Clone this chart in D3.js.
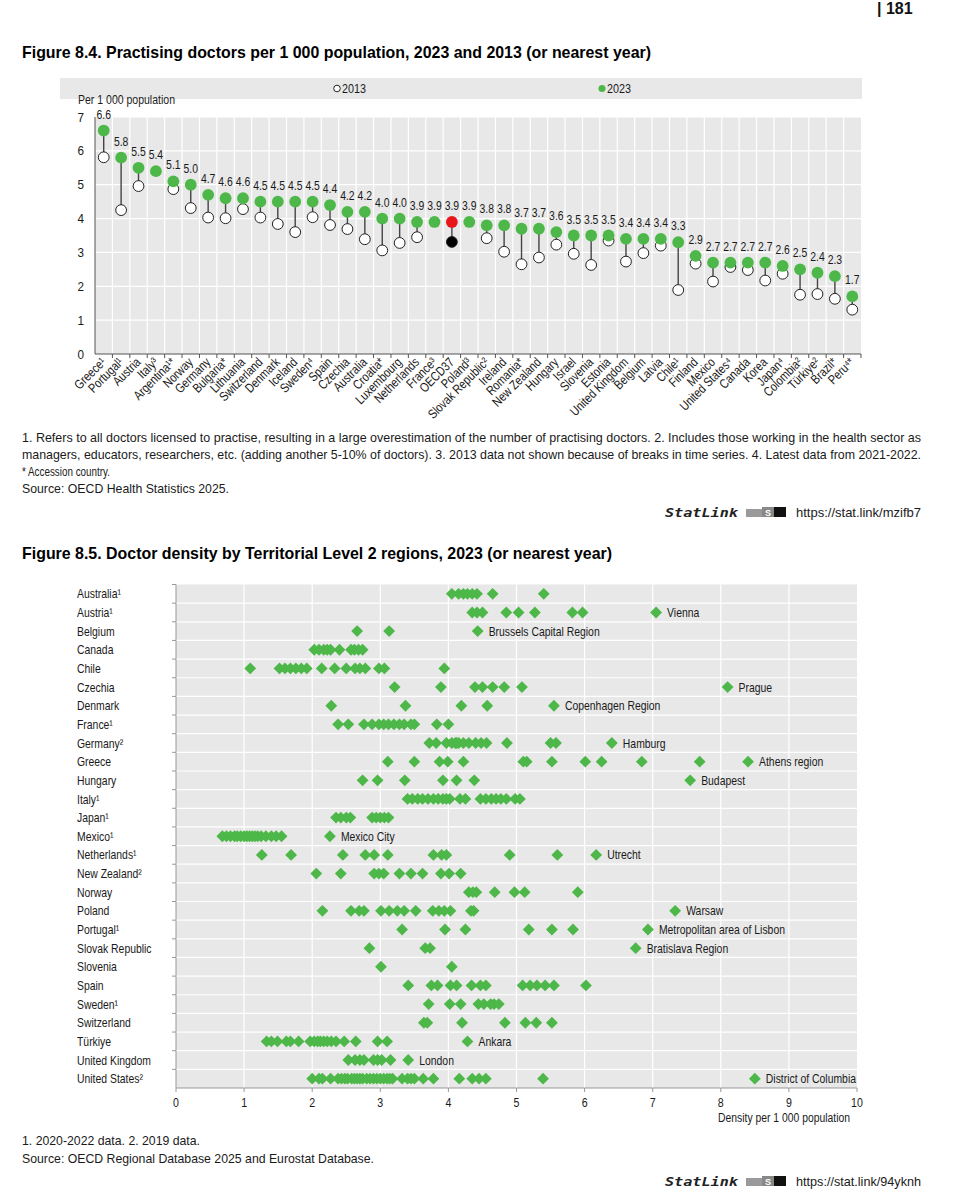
<!DOCTYPE html>
<html><head><meta charset="utf-8">
<script src="https://cdn.jsdelivr.net/npm/d3@7"></script>
<style>
body{margin:0;background:#fff;}
svg{display:block;font-family:"Liberation Sans",Arial,sans-serif;}
</style></head>
<body><svg id="c" width="965" height="1200"></svg>
<script>
// ---------- Figure 8.4 data ----------
const countries = ["Greece¹","Portugal¹","Austria","Italy³","Argentina¹*","Norway","Germany","Bulgaria*","Lithuania","Switzerland","Denmark","Iceland","Sweden⁴","Spain","Czechia","Australia","Croatia*","Luxembourg","Netherlands","France³","OECD37","Poland³","Slovak Republic²","Ireland","Romania*","New Zealand","Hungary","Israel","Slovenia","Estonia","United Kingdom","Belgium","Latvia","Chile¹","Finland","Mexico","United States⁴","Canada","Korea","Japan⁴","Colombia²","Türkiye²","Brazil*","Peru⁴*"];
const v2023 = [6.6,5.8,5.5,5.4,5.1,5.0,4.7,4.6,4.6,4.5,4.5,4.5,4.5,4.4,4.2,4.2,4.0,4.0,3.9,3.9,3.9,3.9,3.8,3.8,3.7,3.7,3.6,3.5,3.5,3.5,3.4,3.4,3.4,3.3,2.9,2.7,2.7,2.7,2.7,2.6,2.5,2.4,2.3,1.7];
const v2013 = [5.81,4.25,4.96,null,4.87,4.31,4.03,4.01,4.28,4.03,3.84,3.6,4.04,3.81,3.69,3.39,3.06,3.28,3.45,null,3.31,null,3.42,3.02,2.65,2.85,3.23,2.96,2.63,3.35,2.73,2.98,3.2,1.89,2.67,2.14,2.57,2.48,2.17,2.37,1.75,1.77,1.63,1.31];
const yTicks84 = [0,1,2,3,4,5,6,7];
const seriesNames = ["2013","2023"];

// ---------- Figure 8.5 data ----------
const regionCountries = ["Australia¹","Austria¹","Belgium","Canada","Chile","Czechia","Denmark","France¹","Germany²","Greece","Hungary","Italy¹","Japan¹","Mexico¹","Netherlands¹","New Zealand²","Norway","Poland","Portugal¹","Slovak Republic","Slovenia","Spain","Sweden¹","Switzerland","Türkiye","United Kingdom","United States²"];
const regionValues = [
 [4.05,4.15,4.22,4.28,4.35,4.42,4.65,5.4],
 [4.35,4.42,4.5,4.85,5.03,5.27,5.82,5.97,7.05],
 [2.66,3.13,4.43],
 [2.03,2.1,2.17,2.22,2.27,2.4,2.57,2.62,2.68,2.74],
 [1.09,1.52,1.6,1.68,1.76,1.84,1.92,2.14,2.33,2.5,2.63,2.7,2.78,2.98,3.06,3.94],
 [3.21,3.89,4.39,4.5,4.65,4.82,5.08,8.1],
 [2.28,3.37,4.19,4.57,5.55],
 [2.38,2.53,2.76,2.88,2.98,3.05,3.12,3.2,3.28,3.35,3.45,3.5,3.83,4.0],
 [3.72,3.82,3.97,4.05,4.1,4.12,4.15,4.22,4.3,4.4,4.48,4.56,4.86,5.5,5.58,6.4],
 [3.11,3.5,3.87,3.99,4.22,5.1,5.15,5.52,6.01,6.25,6.84,7.69,8.4],
 [2.74,2.96,3.36,3.92,4.12,4.38,7.55],
 [3.4,3.47,3.55,3.62,3.7,3.78,3.85,3.92,3.97,4.02,4.17,4.25,4.47,4.55,4.63,4.7,4.77,4.85,4.98,5.05],
 [2.35,2.42,2.5,2.56,2.88,2.94,3.0,3.06,3.12],
 [0.68,0.74,0.8,0.86,0.9,0.95,1.0,1.04,1.08,1.12,1.16,1.2,1.25,1.32,1.4,1.47,1.55,2.26],
 [1.26,1.69,2.45,2.78,2.91,3.11,3.78,3.9,3.97,4.9,5.6,6.17],
 [2.06,2.42,2.91,2.98,3.05,3.28,3.45,3.62,3.89,4.01,4.18],
 [4.3,4.36,4.41,4.68,4.97,5.12,5.9],
 [2.15,2.57,2.69,2.76,3.01,3.13,3.25,3.35,3.52,3.77,3.86,3.94,4.03,4.33,4.37,7.33],
 [3.32,3.95,4.25,5.18,5.52,5.83,6.93],
 [2.84,3.66,3.73,6.75],
 [3.01,4.05],
 [3.41,3.75,3.84,4.03,4.12,4.34,4.47,4.55,5.09,5.2,5.3,5.42,5.55,6.02],
 [3.71,4.02,4.18,4.44,4.52,4.62,4.67,4.74],
 [3.64,3.69,4.2,4.83,5.13,5.29,5.52],
 [1.33,1.4,1.49,1.62,1.68,1.8,1.97,2.03,2.08,2.12,2.17,2.22,2.28,2.35,2.47,2.64,2.96,3.1,4.28],
 [2.53,2.63,2.7,2.76,2.9,2.96,3.02,3.15,3.41],
 [2.0,2.1,2.15,2.27,2.38,2.43,2.48,2.52,2.58,2.62,2.66,2.7,2.74,2.8,2.85,2.9,2.95,3.0,3.05,3.1,3.14,3.18,3.32,3.4,3.45,3.5,3.63,3.78,4.16,4.35,4.45,4.55,5.39,8.5]
];
const capitalLabels = ["","Vienna","Brussels Capital Region","","","Prague","Copenhagen Region","","Hamburg","Athens region","Budapest","","","Mexico City","Utrecht","","","Warsaw","Metropolitan area of Lisbon","Bratislava Region","","","","","Ankara","London","District of Columbia"];
const xTicks85 = [0,1,2,3,4,5,6,7,8,9,10];

// ---------- styling ----------
const GREEN = "#4db849", BG = "#e8e8e8", TXT = "#1a1a1a", AX = "#555";
const svg = d3.select("#c");

function squeeze(sel, f) {
  sel.each(function () {
    const w = this.getComputedTextLength();
    d3.select(this).attr("textLength", w * f).attr("lengthAdjust", "spacingAndGlyphs");
  });
  return sel;
}
function txt(x, y, s, opts = {}) {
  const t = svg.append("text").attr("x", x).attr("y", y).text(s)
    .attr("font-size", opts.size || 12).attr("fill", opts.fill || TXT)
    .attr("text-anchor", opts.anchor || "start");
  if (opts.bold) t.attr("font-weight", "bold");
  if (opts.italic) t.attr("font-style", "italic");
  if (opts.family) t.attr("font-family", opts.family);
  if (opts.len) t.attr("textLength", opts.len).attr("lengthAdjust", "spacingAndGlyphs");
  else if (opts.sq) squeeze(t, opts.sq);
  return t;
}

// page number
txt(877, 14, "| 181", {size: 16, bold: true, fill: "#111"});

// ================= Figure 8.4 =================
txt(22, 58, "Figure 8.4. Practising doctors per 1 000 population, 2023 and 2013 (or nearest year)", {size: 17, bold: true, len: 629, fill: "#000"});

svg.append("rect").attr("x", 60).attr("y", 78).attr("width", 802).attr("height", 21).attr("fill", BG);
svg.append("circle").attr("cx", 337).attr("cy", 88.5).attr("r", 3.3).attr("fill", "#fff").attr("stroke", "#222").attr("stroke-width", 1);
txt(342, 93, seriesNames[0], {size: 13, len: 24});
svg.append("circle").attr("cx", 602).attr("cy", 88.5).attr("r", 3.5).attr("fill", GREEN);
txt(607, 93, seriesNames[1], {size: 13, len: 24});

const x1 = d3.scaleBand().domain(countries).range([95, 861]).padding(0);
const y1 = d3.scaleLinear().domain([0, 7]).range([354, 117]);

svg.append("rect").attr("x", 95).attr("y", y1(7)).attr("width", 766).attr("height", y1(0) - y1(7)).attr("fill", BG);
svg.append("g").selectAll("line").data(yTicks84.slice(1)).join("line")
  .attr("x1", 95).attr("x2", 861).attr("y1", d => y1(d)).attr("y2", d => y1(d))
  .attr("stroke", "#fff").attr("stroke-width", 1.2);
const bounds = countries.slice(1).map(c => x1(c));
svg.append("g").selectAll("line").data(bounds).join("line")
  .attr("x1", d => d).attr("x2", d => d).attr("y1", y1(7)).attr("y2", y1(0))
  .attr("stroke", "#fff").attr("stroke-width", 1.2);
svg.append("line").attr("x1", 95).attr("x2", 95).attr("y1", y1(7)).attr("y2", y1(0)).attr("stroke", AX).attr("stroke-width", 1);
svg.append("line").attr("x1", 95).attr("x2", 861).attr("y1", y1(0)).attr("y2", y1(0)).attr("stroke", AX).attr("stroke-width", 1);
svg.append("g").selectAll("line").data(bounds.concat([861])).join("line")
  .attr("x1", d => d).attr("x2", d => d).attr("y1", y1(0)).attr("y2", y1(0) + 4)
  .attr("stroke", AX).attr("stroke-width", 1);
squeeze(svg.append("g").selectAll("text").data(yTicks84).join("text")
  .attr("x", 84).attr("y", d => y1(d)).attr("dy", "0.35em").attr("text-anchor", "end")
  .attr("font-size", 13).attr("fill", TXT).text(d => d), 0.9);
txt(78, 104, "Per 1 000 population", {size: 12.5, len: 97});

const pts = countries.map((c, i) => ({c, i, a: v2013[i], b: v2023[i]}));
svg.append("g").selectAll("line").data(pts.filter(d => d.a != null)).join("line")
  .attr("x1", d => x1(d.c) + x1.bandwidth() / 2).attr("x2", d => x1(d.c) + x1.bandwidth() / 2)
  .attr("y1", d => y1(d.a)).attr("y2", d => y1(d.b))
  .attr("stroke", "#444").attr("stroke-width", 1.4);
svg.append("g").selectAll("circle").data(pts.filter(d => d.a != null)).join("circle")
  .attr("cx", d => x1(d.c) + x1.bandwidth() / 2).attr("cy", d => y1(d.a)).attr("r", 5.4)
  .attr("fill", d => d.c === "OECD37" ? "#000" : "#fff").attr("stroke", "#222").attr("stroke-width", 1);
svg.append("g").selectAll("circle").data(pts).join("circle")
  .attr("cx", d => x1(d.c) + x1.bandwidth() / 2).attr("cy", d => y1(d.b)).attr("r", 5.9)
  .attr("fill", d => d.c === "OECD37" ? "#e8161b" : GREEN);
squeeze(svg.append("g").selectAll("text").data(pts).join("text")
  .attr("x", d => x1(d.c) + x1.bandwidth() / 2).attr("y", d => y1(d.b) - 12)
  .attr("text-anchor", "middle").attr("font-size", 13).attr("fill", TXT)
  .text(d => d.b.toFixed(1)), 0.8);
squeeze(svg.append("g").selectAll("text").data(countries).join("text")
  .attr("transform", d => `translate(${x1(d) + x1.bandwidth() / 2 + 3},${y1(0) + 9}) rotate(-45)`)
  .attr("text-anchor", "end").attr("font-size", 13).attr("fill", TXT).text(d => d), 0.82);

txt(22, 442, "1. Refers to all doctors licensed to practise, resulting in a large overestimation of the number of practising doctors. 2. Includes those working in the health sector as", {size: 13, len: 899});
txt(22, 459, "managers, educators, researchers, etc. (adding another 5-10% of doctors). 3. 2013 data not shown because of breaks in time series. 4. Latest data from 2021-2022.", {size: 13, len: 899});
txt(22, 476, "* Accession country.", {size: 13, len: 88});
txt(22, 493, "Source: OECD Health Statistics 2025.", {size: 13, len: 207});

function statlink(y, url) {
  txt(665, y, "StatLink", {size: 13, bold: true, italic: true, family: "DejaVu Sans Mono, monospace", len: 73, fill: "#222"});
  const g = svg.append("g").attr("transform", `translate(746,${y - 10})`);
  g.append("rect").attr("x", 0).attr("y", 2).attr("width", 16).attr("height", 8).attr("fill", "#9a9a9a");
  g.append("rect").attr("x", 16).attr("y", 0).attr("width", 12).attr("height", 10).attr("fill", "#888");
  g.append("rect").attr("x", 28).attr("y", 0).attr("width", 12).attr("height", 10).attr("fill", "#111");
  g.append("text").attr("x", 19).attr("y", 9).attr("font-size", 9).attr("font-weight", "bold").attr("fill", "#fff").text("S");
  txt(796, y, url, {size: 13, len: 125});
}
statlink(517, "https://stat.link/mzifb7");

// ================= Figure 8.5 =================
txt(22, 559, "Figure 8.5. Doctor density by Territorial Level 2 regions, 2023 (or nearest year)", {size: 17, bold: true, len: 590, fill: "#000"});

const x2 = d3.scaleLinear().domain([0, 10]).range([176, 857]);
const y2 = d3.scaleBand().domain(regionCountries).range([584.5, 1088]).padding(0);

svg.append("rect").attr("x", x2(0)).attr("y", 584.5).attr("width", x2(10) - x2(0)).attr("height", 1088 - 584.5).attr("fill", BG);
svg.append("g").selectAll("line").data(xTicks85.slice(1, -1)).join("line")
  .attr("x1", d => x2(d)).attr("x2", d => x2(d)).attr("y1", 584.5).attr("y2", 1088)
  .attr("stroke", "#fff").attr("stroke-width", 1.2);
const rb = regionCountries.slice(1).map(c => y2(c));
svg.append("g").selectAll("line").data(rb).join("line")
  .attr("x1", x2(0)).attr("x2", x2(10)).attr("y1", d => d).attr("y2", d => d)
  .attr("stroke", "#fff").attr("stroke-width", 1.2);
svg.append("line").attr("x1", x2(0)).attr("x2", x2(0)).attr("y1", 584.5).attr("y2", 1088).attr("stroke", "#999");
svg.append("line").attr("x1", x2(0)).attr("x2", x2(10)).attr("y1", 1088).attr("y2", 1088).attr("stroke", "#999");
svg.append("g").selectAll("line").data([584.5].concat(rb)).join("line")
  .attr("x1", x2(0) - 4).attr("x2", x2(0)).attr("y1", d => d).attr("y2", d => d).attr("stroke", "#999");
svg.append("g").selectAll("line").data(xTicks85).join("line")
  .attr("x1", d => x2(d)).attr("x2", d => x2(d)).attr("y1", 1088).attr("y2", 1092).attr("stroke", "#999");
squeeze(svg.append("g").selectAll("text").data(xTicks85).join("text")
  .attr("x", d => x2(d)).attr("y", 1107).attr("text-anchor", "middle")
  .attr("font-size", 12.5).attr("fill", TXT).text(d => d), 0.85);
txt(850, 1122, "Density per 1 000 population", {size: 12.5, anchor: "end", len: 132});

squeeze(svg.append("g").selectAll("text").data(regionCountries).join("text")
  .attr("x", 77).attr("y", d => y2(d) + y2.bandwidth() / 2).attr("dy", "0.35em")
  .attr("font-size", 13).attr("fill", TXT).text(d => d), 0.8);

const diamond = d3.symbol().type(d3.symbolSquare).size(70);
const regPts = [];
regionCountries.forEach((c, i) => regionValues[i].forEach(v => regPts.push({c, v})));
svg.append("g").selectAll("path").data(regPts).join("path")
  .attr("d", diamond)
  .attr("transform", d => `translate(${x2(d.v)},${y2(d.c) + y2.bandwidth() / 2}) rotate(45)`)
  .attr("fill", GREEN);
const labs = regionCountries.map((c, i) => ({c, t: capitalLabels[i], v: d3.max(regionValues[i])})).filter(d => d.t);
squeeze(svg.append("g").selectAll("text").data(labs).join("text")
  .attr("x", d => x2(d.v) + 11).attr("y", d => y2(d.c) + y2.bandwidth() / 2).attr("dy", "0.35em")
  .attr("font-size", 13).attr("fill", TXT).text(d => d.t), 0.8);

txt(22, 1145, "1. 2020-2022 data. 2. 2019 data.", {size: 13, len: 178});
txt(22, 1163, "Source: OECD Regional Database 2025 and Eurostat Database.", {size: 13, len: 352});
statlink(1186, "https://stat.link/94yknh");
</script></body></html>
